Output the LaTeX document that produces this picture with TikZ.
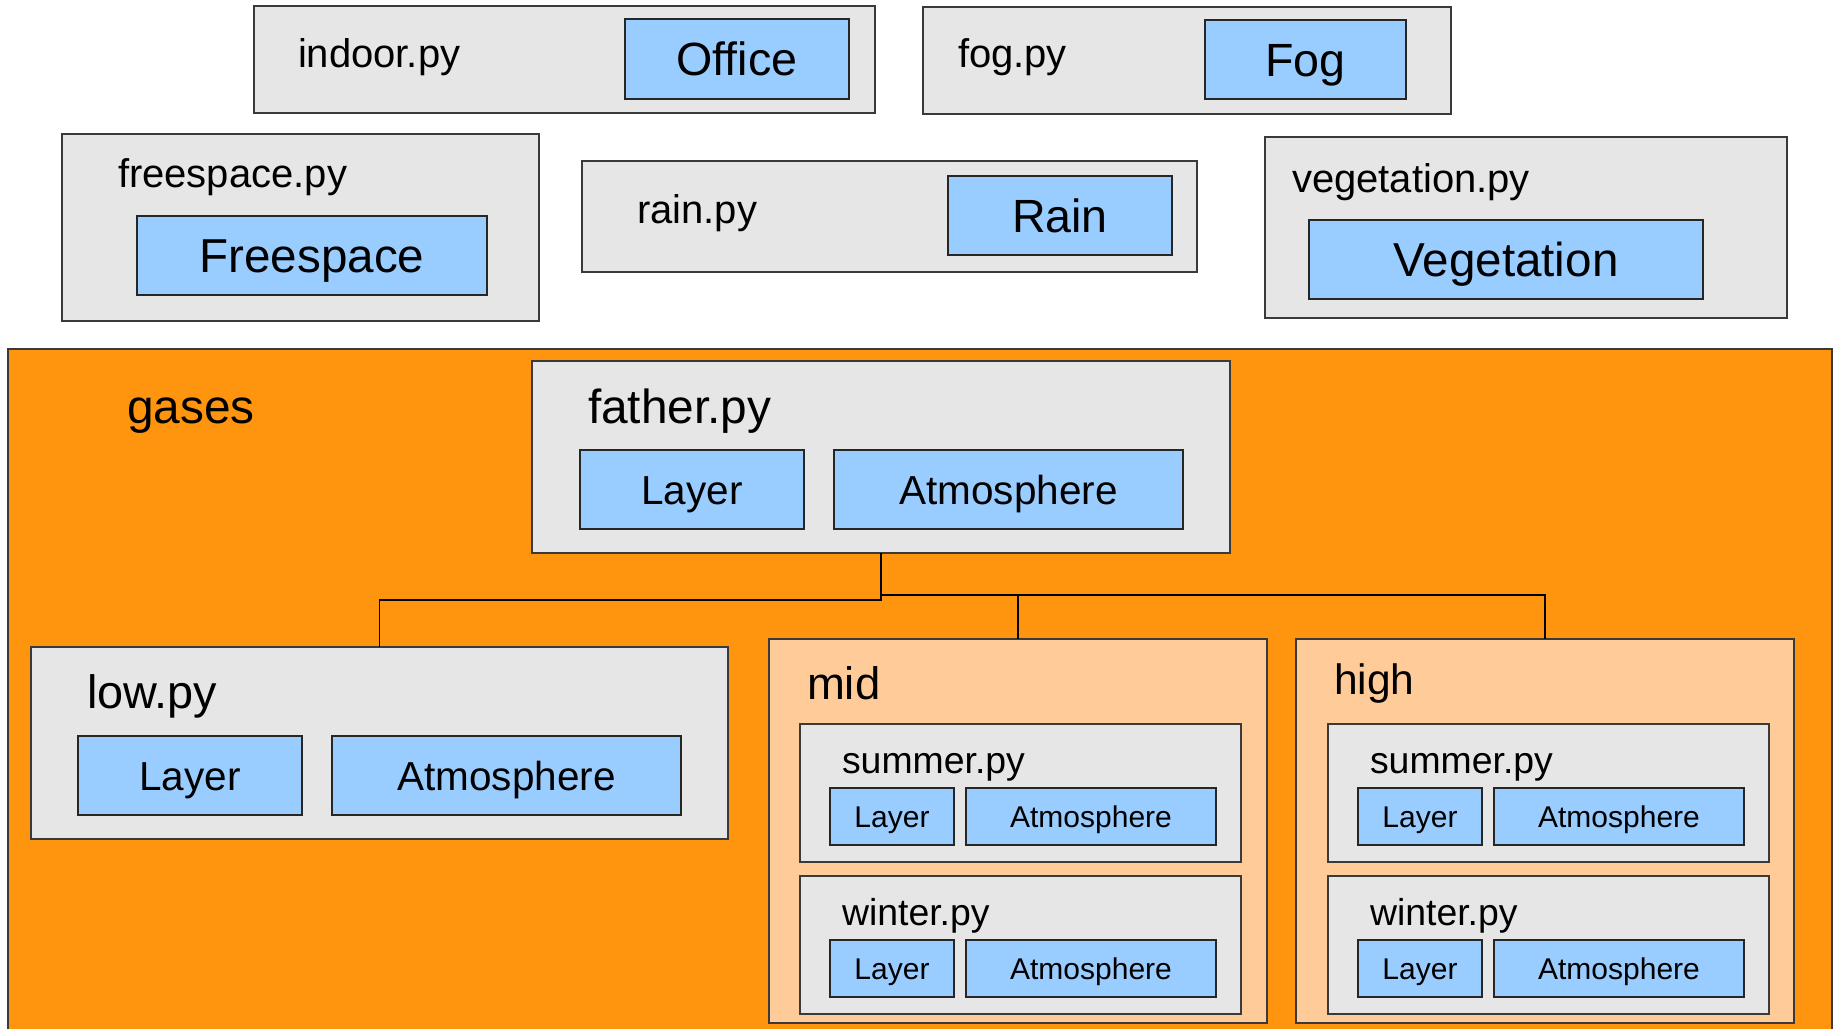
\documentclass[tikz,border=0pt]{standalone}
\usepackage{fontspec}
\setmainfont{Liberation Sans}

\definecolor{panelgray}{HTML}{E6E6E6}
\definecolor{classblue}{HTML}{99CCFF}
\definecolor{gasorange}{HTML}{FF950E}
\definecolor{paleorange}{HTML}{FFCC99}
\definecolor{edge}{HTML}{3A3A3A}

\newcommand\fsz[1]{\fontsize{#1}{#1}\selectfont}
% box from corner (x1,y1) to (x2,y2), y measured downwards
\newcommand\placebox[7]{%
  \node[#2, minimum width={(#5)-(#3)}, minimum height={(#6)-(#4)}]
    (#1) at ({((#3)+(#5))/2},{((#4)+(#6))/2}) {#7};}

\tikzset{
  every node/.style={inner sep=0pt, outer sep=0pt},
  frame/.style={draw=edge, line width=1.3pt},
  module/.style={frame, fill=panelgray},
  cls/.style={frame, draw=black!85, fill=classblue},
  group/.style={frame, fill=paleorange},
  clsbig/.style={cls, font=\fsz{47.6}, text height=34pt, text depth=0pt},
  clsmed/.style={cls, font=\fsz{46.6}, text height=33.3pt, text depth=0pt},
  clsfam/.style={cls, font=\fsz{40.5}, text height=29pt, text depth=0pt},
  clssmall/.style={cls, font=\fsz{30}, text height=21.5pt, text depth=0pt},
  modlabel/.style={anchor=base west, font=\fsz{40}},
  seasonlabel/.style={anchor=base west, font=\fsz{37.4}},
  biglabel/.style={anchor=base west, font=\fsz{47.8}},
  link/.style={draw=black, line width=1.2pt},
}

\begin{document}
\begin{tikzpicture}[x=1pt, y=-1pt]
\useasboundingbox (0,0) rectangle (1833,1028);
\clip (0,0) rectangle (1833,1028);

% ---- stand-alone modules ----
\placebox{indoor}{module}{254}{6}{875}{113}{}
\placebox{office}{clsmed}{625}{19}{849}{99}{Office}
\node[modlabel] (indoorlbl) at (298,67) {indoor.py};

\placebox{fog}{module}{923}{7}{1451}{114}{}
\placebox{fogcls}{clsmed}{1205}{20}{1406}{99}{Fog}
\node[modlabel] (foglbl) at (958,67) {fog.py};

\placebox{freespace}{module}{62}{134}{539}{321}{}
\placebox{freecls}{clsbig}{137}{216}{487}{295}{Freespace}
\node[modlabel] (freelbl) at (118,187) {freespace.py};

\placebox{rain}{module}{582}{161}{1197}{272}{}
\placebox{raincls}{clsmed}{948}{176}{1172}{255}{Rain}
\node[modlabel] (rainlbl) at (637,223) {rain.py};

\placebox{vegetation}{module}{1265}{137}{1787}{318}{}
\placebox{vegcls}{clsbig}{1309}{220}{1703}{299}{Vegetation}
\node[modlabel] (veglbl) at (1292,192) {vegetation.py};

% ---- gases package ----
\placebox{gases}{frame, fill=gasorange}{8}{349}{1832}{1080}{}
\node[biglabel] (gaseslbl) at (127,423) {gases};

\placebox{father}{module}{532}{361}{1230}{553}{}
\node[biglabel] (fatherlbl) at (588,423) {father.py};
\placebox{fatherlayer}{clsfam}{580}{450}{804}{529}{Layer}
\placebox{fatheratm}{clsfam}{834}{450}{1183}{529}{Atmosphere}

\placebox{low}{module}{31}{647}{728}{839}{}
\node[biglabel, font=\fsz{46.8}] (lowlbl) at (87,708) {low.py};
\placebox{lowlayer}{clsfam}{78}{736}{302}{815}{Layer}
\placebox{lowatm}{clsfam}{332}{736}{681}{815}{Atmosphere}

% mid altitude
\placebox{mid}{group}{769}{639}{1267}{1023}{}
\node[biglabel, font=\fsz{45.5}] (midlbl) at (807,699) {mid};
\placebox{midsummer}{module}{800}{724}{1241}{862}{}
\node[seasonlabel] (midsummerlbl) at (842,773) {summer.py};
\placebox{midsumlayer}{clssmall}{830}{788}{954}{845}{Layer}
\placebox{midsumatm}{clssmall}{966}{788}{1216}{845}{Atmosphere}
\placebox{midwinter}{module}{800}{876}{1241}{1014}{}
\node[seasonlabel] (midwinterlbl) at (842,925) {winter.py};
\placebox{midwinlayer}{clssmall}{830}{940}{954}{997}{Layer}
\placebox{midwinatm}{clssmall}{966}{940}{1216}{997}{Atmosphere}

% high altitude
\placebox{high}{group}{1296}{639}{1794}{1023}{}
\node[biglabel, font=\fsz{42.5}] (highlbl) at (1334,694) {high};
\placebox{highsummer}{module}{1328}{724}{1769}{862}{}
\node[seasonlabel] (highsummerlbl) at (1370,773) {summer.py};
\placebox{highsumlayer}{clssmall}{1358}{788}{1482}{845}{Layer}
\placebox{highsumatm}{clssmall}{1494}{788}{1744}{845}{Atmosphere}
\placebox{highwinter}{module}{1328}{876}{1769}{1014}{}
\node[seasonlabel] (highwinterlbl) at (1370,925) {winter.py};
\placebox{highwinlayer}{clssmall}{1358}{940}{1482}{997}{Layer}
\placebox{highwinatm}{clssmall}{1494}{940}{1744}{997}{Atmosphere}

% ---- inheritance tree ----
\coordinate (leftbar) at (father.south |- 0,600);
\coordinate (rightbar) at (father.south |- 0,595);
\draw[link] (father.south) -- (leftbar) -| (low.north);
\draw[link] (rightbar) -| (mid.north);
\draw[link] (rightbar) -| (high.north);
\end{tikzpicture}
\end{document}
